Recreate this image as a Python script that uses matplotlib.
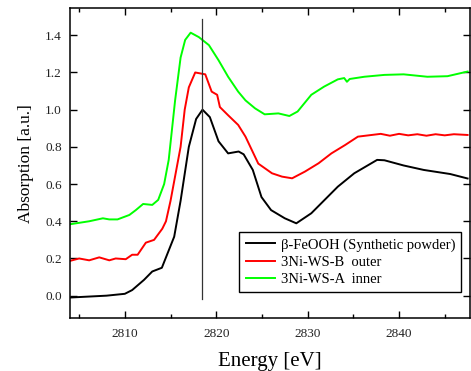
import matplotlib.pyplot as plt
import numpy as np

plt.rcParams['font.family'] = ['Liberation Serif', 'DejaVu Serif']

# beta-FeOOH (synthetic powder)
e_black = [2804.0, 2806.0, 2808.0, 2810.0, 2810.8, 2812.1, 2813.0, 2814.05, 2815.4,
           2816.1, 2817.0, 2817.8, 2818.5, 2819.3, 2820.25, 2821.3, 2822.45, 2823.0,
           2824.0, 2824.95, 2826.0, 2827.5, 2828.76, 2830.4, 2833.3, 2835.1, 2837.6,
           2838.4, 2840.5, 2842.7, 2845.6, 2847.5]
a_black = [-0.01, -0.005, 0.0, 0.01, 0.03, 0.085, 0.13, 0.15, 0.317,
           0.51, 0.8, 0.95, 1.0, 0.96, 0.83, 0.765, 0.775, 0.76,
           0.676, 0.53, 0.46, 0.416, 0.389, 0.443, 0.586, 0.658, 0.73,
           0.728, 0.70, 0.676, 0.654, 0.63]

# 3Ni-WS-B outer
e_red = [2804.0, 2805.0, 2806.1, 2807.2, 2808.3, 2809.0, 2810.1, 2810.8, 2811.4,
         2812.3, 2813.2, 2814.1, 2814.5, 2815.0, 2816.1, 2816.55, 2817.0, 2817.7,
         2818.8, 2819.5, 2820.1, 2820.4, 2821.3, 2822.4, 2823.2, 2824.6, 2826.1,
         2827.2, 2828.3, 2829.7, 2831.2, 2832.6, 2834.1, 2835.5, 2837.0, 2838.0,
         2839.0, 2840.0, 2841.0, 2842.0, 2843.0, 2844.0, 2845.0, 2846.0, 2847.5]
a_red = [0.187, 0.2, 0.19, 0.206, 0.19, 0.2, 0.196, 0.22, 0.22,
         0.285, 0.30, 0.36, 0.40, 0.51, 0.8, 1.0, 1.12, 1.2,
         1.19, 1.097, 1.08, 1.014, 0.97, 0.918, 0.855, 0.71, 0.658,
         0.64, 0.631, 0.667, 0.712, 0.765, 0.81, 0.855, 0.864, 0.87,
         0.86, 0.87, 0.862, 0.868, 0.86, 0.868, 0.862, 0.868, 0.864]

# 3Ni-WS-A inner
e_green = [2804.0, 2806.1, 2807.6, 2808.3, 2809.2, 2810.5, 2811.2, 2812.0, 2813.0,
           2813.65, 2814.3, 2814.8, 2815.5, 2816.1, 2816.6, 2817.2, 2818.1, 2819.2,
           2820.25, 2821.3, 2822.4, 2823.2, 2824.25, 2825.3, 2826.8, 2828.0, 2828.9,
           2830.4, 2831.8, 2833.3, 2834.0, 2834.3, 2834.6, 2836.2, 2838.4, 2840.5,
           2843.1, 2845.3, 2847.5]
a_green = [0.384, 0.40, 0.416, 0.41, 0.41, 0.434, 0.46, 0.493, 0.488,
           0.515, 0.6, 0.73, 1.05, 1.28, 1.375, 1.414, 1.39, 1.347,
           1.266, 1.177, 1.097, 1.05, 1.007, 0.975, 0.98, 0.966, 0.99,
           1.08, 1.124, 1.163, 1.17, 1.15, 1.165, 1.177, 1.187, 1.19,
           1.177, 1.18, 1.205]

edge_energy = 2818.4

fig = plt.figure(figsize=(4.71, 3.71), dpi=100)
ax = fig.add_axes([0.1486, 0.1429, 0.85, 0.8347])

ax.plot(e_black, a_black, color='black', lw=1.4, label='β-FeOOH (Synthetic powder)')
ax.plot(e_red, a_red, color='#ff0000', lw=1.4, label='3Ni-WS-B  outer')
ax.plot(e_green, a_green, color='#00ff00', lw=1.4, label='3Ni-WS-A  inner')
ax.plot([edge_energy, edge_energy], [-0.02, 1.49], color='#333333', lw=0.9)

ax.set_xlim(2804, 2847.8)
ax.set_ylim(-0.12, 1.545)
ax.set_xticks([2810, 2820, 2830, 2840])
ax.set_xticks([2805, 2815, 2825, 2835, 2845], minor=True)
ax.set_yticks(np.arange(0.0, 1.41, 0.2))
ax.set_yticklabels(['%.1f' % v for v in np.arange(0.0, 1.41, 0.2)])
ax.tick_params(which='both', direction='in', top=True, right=True,
               labelsize=9.5, colors='black', labelcolor='#222222')
ax.tick_params(which='major', length=5, width=1)
ax.tick_params(which='minor', length=3, width=1)
ax.tick_params(axis='y', pad=6)
ax.tick_params(axis='x', pad=7)
for s in ax.spines.values():
    s.set_linewidth(1.1)

ax.set_xlabel('Energy [eV]', fontsize=15, labelpad=9)
ax.set_ylabel('Absorption [a.u.]', fontsize=12.5, labelpad=8)

leg = ax.legend(loc='lower right', bbox_to_anchor=(0.977, 0.084), fontsize=10.5,
                frameon=True, fancybox=False, edgecolor='black', framealpha=1,
                borderaxespad=0, handlelength=2.0, handletextpad=0.4,
                labelspacing=0.27, borderpad=0.42)
leg.get_frame().set_linewidth(1.0)

fig.savefig('out.png', dpi=100)
